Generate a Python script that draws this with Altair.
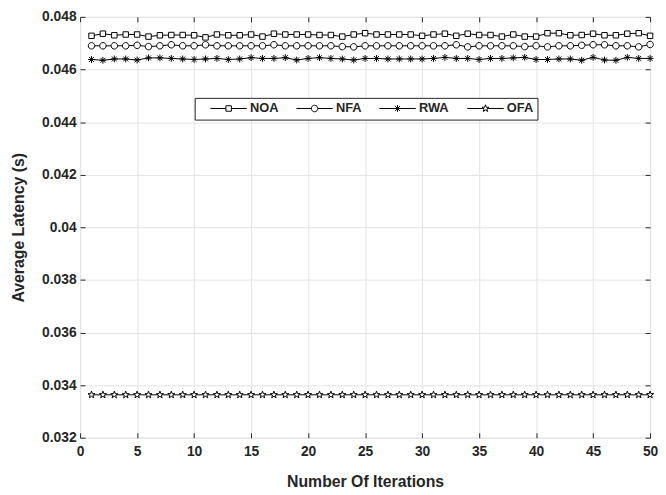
import math
import altair as alt
import pandas as pd

iterations = list(range(1, 51))
noa = [0.04728, 0.04736, 0.04730, 0.04733, 0.04733, 0.04725, 0.04730, 0.04731, 0.04731, 0.04730,
       0.04722, 0.04733, 0.04730, 0.04730, 0.04733, 0.04725, 0.04736, 0.04733, 0.04733, 0.04733,
       0.04731, 0.04731, 0.04725, 0.04733, 0.04738, 0.04733, 0.04733, 0.04733, 0.04733, 0.04728,
       0.04733, 0.04736, 0.04728, 0.04736, 0.04731, 0.04731, 0.04725, 0.04733, 0.04725, 0.04725,
       0.04738, 0.04738, 0.04730, 0.04731, 0.04736, 0.04730, 0.04730, 0.04736, 0.04738, 0.04728]
nfa = [0.04690, 0.04690, 0.04690, 0.04690, 0.04692, 0.04687, 0.04690, 0.04694, 0.04690, 0.04690,
       0.04694, 0.04690, 0.04690, 0.04690, 0.04690, 0.04690, 0.04694, 0.04690, 0.04690, 0.04690,
       0.04690, 0.04690, 0.04687, 0.04686, 0.04690, 0.04690, 0.04690, 0.04690, 0.04690, 0.04690,
       0.04690, 0.04690, 0.04694, 0.04686, 0.04690, 0.04690, 0.04690, 0.04690, 0.04687, 0.04690,
       0.04686, 0.04690, 0.04690, 0.04692, 0.04694, 0.04694, 0.04690, 0.04690, 0.04686, 0.04695]
rwa = [0.04638, 0.04635, 0.04640, 0.04640, 0.04636, 0.04644, 0.04644, 0.04642, 0.04640, 0.04638,
       0.04640, 0.04642, 0.04638, 0.04640, 0.04645, 0.04642, 0.04642, 0.04645, 0.04636, 0.04642,
       0.04645, 0.04642, 0.04640, 0.04636, 0.04642, 0.04642, 0.04640, 0.04640, 0.04640, 0.04640,
       0.04642, 0.04646, 0.04642, 0.04642, 0.04638, 0.04642, 0.04642, 0.04644, 0.04646, 0.04638,
       0.04638, 0.04640, 0.04640, 0.04635, 0.04646, 0.04636, 0.04635, 0.04646, 0.04642, 0.04642]
ofa = [0.03363, 0.03363, 0.03363, 0.03363, 0.03363, 0.03363, 0.03363, 0.03363, 0.03363, 0.03363,
       0.03363, 0.03363, 0.03363, 0.03363, 0.03363, 0.03363, 0.03363, 0.03363, 0.03363, 0.03363,
       0.03363, 0.03363, 0.03363, 0.03363, 0.03363, 0.03363, 0.03363, 0.03363, 0.03363, 0.03363,
       0.03363, 0.03363, 0.03363, 0.03363, 0.03363, 0.03363, 0.03363, 0.03363, 0.03363, 0.03363,
       0.03363, 0.03363, 0.03363, 0.03363, 0.03363, 0.03363, 0.03363, 0.03363, 0.03363, 0.03363]
series_names = ["NOA", "NFA", "RWA", "OFA"]
x_ticks = [0, 5, 10, 15, 20, 25, 30, 35, 40, 45, 50]
y_ticks = [0.032, 0.034, 0.036, 0.038, 0.040, 0.042, 0.044, 0.046, 0.048]

rows = []
for name, vals in zip(series_names, [noa, nfa, rwa, ofa]):
    for it, v in zip(iterations, vals):
        rows.append({"iter": it, "series": name, "latency": v})
df = pd.DataFrame(rows)

FONT = "Liberation Sans"
INK = "#262626"


def square(cx, h=0.92):
    return f"M{cx-h:.3f},{-h:.3f}H{cx+h:.3f}V{h:.3f}H{cx-h:.3f}Z"


def circle(cx, r=1.1):
    return f"M{cx-r:.3f},0A{r},{r},0,1,0,{cx+r:.3f},0A{r},{r},0,1,0,{cx-r:.3f},0Z"


def asterisk(cx, r=1.15):
    d = r * 0.72
    return (f"M{cx-r:.3f},0H{cx+r:.3f}M{cx:.3f},{-r:.3f}V{r:.3f}"
            f"M{cx-d:.3f},{-d:.3f}L{cx+d:.3f},{d:.3f}M{cx-d:.3f},{d:.3f}L{cx+d:.3f},{-d:.3f}")


def pentagram(cx, R=1.25, ri=0.5):
    pts = []
    for k in range(10):
        ang = -math.pi / 2 + k * math.pi / 5
        rad = R if k % 2 == 0 else ri
        pts.append((cx + rad * math.cos(ang), rad * math.sin(ang)))
    return "M" + "L".join(f"{x:.3f},{y:.3f}" for x, y in pts) + "Z"


marker_fns = [square, circle, asterisk, pentagram]
marker_gaps = [0.92, 1.1, 0.0, 0.9]
data_shapes = [f(0) for f in marker_fns]

# legend sample: line of 12.3 units with the marker in its middle
LINE_START = 1.8
LINE_LEN = 12.3


def legend_path(fn, gap):
    cx = LINE_START + LINE_LEN / 2
    return (f"M{LINE_START:.3f},0H{cx-gap:.3f}M{cx+gap:.3f},0H{LINE_START+LINE_LEN:.3f}" + fn(cx))


legend_shapes = [legend_path(f, g) for f, g in zip(marker_fns, marker_gaps)]

x_scale = alt.Scale(domain=[0, 50], nice=False, zero=False)
y_scale = alt.Scale(domain=[0.032, 0.048], nice=False, zero=False)

common_axis = dict(
    labelFont=FONT, labelFontSize=14, labelFontWeight="bold", labelColor=INK,
    titleFont=FONT, titleFontSize=16, titleFontWeight="bold", titleColor=INK,
    tickColor=INK, tickSize=5, tickWidth=1, offset=-5, domain=False,
    labelFlush=False, gridColor="#e3e3e3", gridWidth=1,
)

x_main = alt.X("iter:Q", scale=x_scale,
               axis=alt.Axis(orient="bottom", values=x_ticks, grid=True, labelPadding=7,
                             title="Number Of Iterations", titlePadding=15, **common_axis))
y_main = alt.Y("latency:Q", scale=y_scale,
               axis=alt.Axis(orient="left", values=y_ticks, format="~g", grid=True, labelPadding=4,
                             title="Average Latency (s)", titlePadding=15, **common_axis))

lines = alt.Chart(df).mark_line(color="black", strokeWidth=1).encode(
    x=x_main, y=y_main, detail="series:N", order="iter:Q"
)

points = alt.Chart(df).mark_point(
    filled=True, fill="white", stroke="black", strokeWidth=1, size=36, opacity=1
).encode(
    x=alt.X("iter:Q", scale=x_scale, axis=None),
    y=alt.Y("latency:Q", scale=y_scale, axis=None),
    shape=alt.Shape("series:N", scale=alt.Scale(domain=series_names, range=data_shapes), legend=None),
)

frame_axis = dict(common_axis)
frame_axis.update(labels=False, grid=False, title=None)

legend_layer = alt.Chart(df).mark_point(
    filled=False, color="black", strokeWidth=1, size=36, opacity=0
).encode(
    x=alt.X("iter:Q", scale=x_scale, axis=alt.Axis(orient="top", values=x_ticks, **frame_axis)),
    y=alt.Y("latency:Q", scale=y_scale, axis=alt.Axis(orient="right", values=y_ticks, **frame_axis)),
    shape=alt.Shape(
        "series:N",
        scale=alt.Scale(domain=series_names, range=legend_shapes),
        legend=alt.Legend(
            title=None, orient="none", legendX=116, legendY=82, direction="horizontal", columns=4,
            strokeColor=INK, fillColor="white", padding=4, cornerRadius=0,
            symbolSize=36, symbolStrokeColor="black", symbolFillColor="white",
            symbolStrokeWidth=1, symbolOpacity=1,
            labelFont=FONT, labelFontSize=13, labelFontWeight="bold", labelColor=INK,
            labelOffset=39, columnPadding=6,
        ),
    ),
)

chart = alt.layer(lines, points, legend_layer).resolve_scale(
    shape="independent"
).resolve_axis(
    x="independent", y="independent"
).properties(
    width=577, height=426,
    autosize=alt.AutoSizeParams(type="none"),
    padding={"left": 73, "top": 6, "right": 8, "bottom": 53},
).configure_view(
    stroke=INK, strokeWidth=1
).configure(background="white")

chart.save("out.html", embed_options={"renderer": "svg", "actions": False})
